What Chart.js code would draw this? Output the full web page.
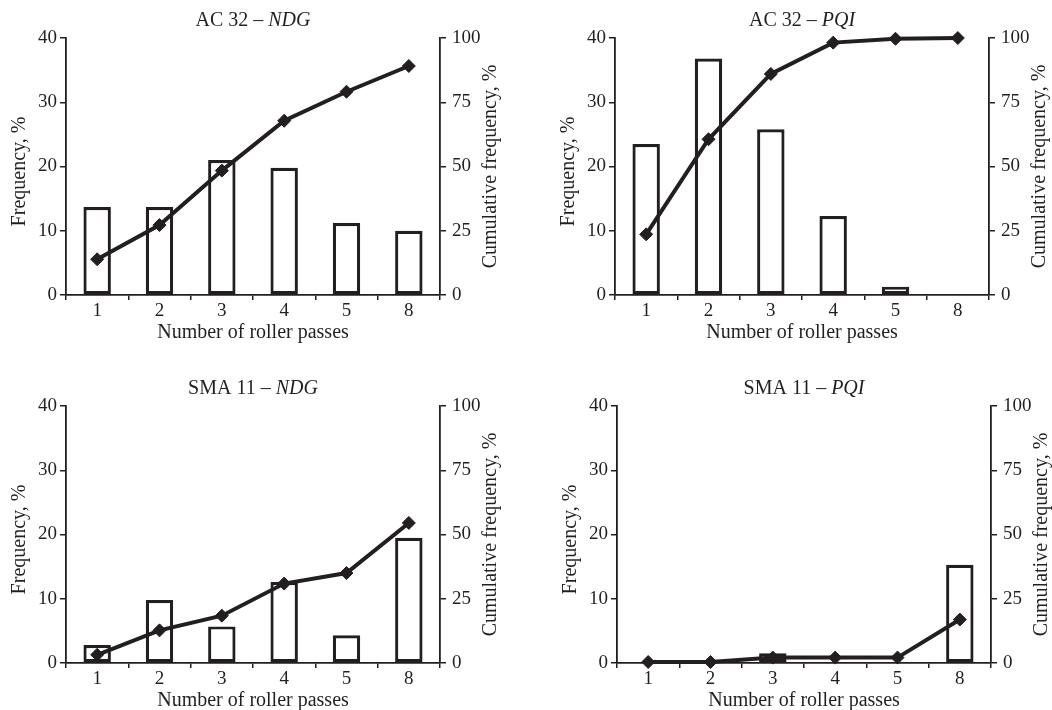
<!DOCTYPE html>
<html>
<head>
<meta charset="utf-8">
<script src="https://cdn.jsdelivr.net/npm/chart.js@4.4.1/dist/chart.umd.min.js"></script>
<style>
  html, body { margin: 0; padding: 0; background: #fff; }
  #wrap { position: relative; width: 1052px; height: 710px; overflow: hidden; }
  .panel { position: absolute; }
</style>
</head>
<body>
<div id="wrap">
  <div class="panel" style="left:0;top:0;width:526px;height:368px"><canvas id="c1"></canvas></div>
  <div class="panel" style="left:549px;top:0;width:503px;height:368px"><canvas id="c2"></canvas></div>
  <div class="panel" style="left:0;top:368px;width:526px;height:342px"><canvas id="c3"></canvas></div>
  <div class="panel" style="left:551px;top:368px;width:501px;height:342px"><canvas id="c4"></canvas></div>
</div>
<script>
// Categories: number of roller passes
const passes = ['1', '2', '3', '4', '5', '8'];

// Axis ticks
const freqTicks = [0, 10, 20, 30, 40];
const cumTicks = [0, 25, 50, 75, 100];

// AC 32 – NDG
const ac32NdgFreq = [13.7, 13.7, 21.0, 19.8, 11.2, 10.0];
const ac32NdgCum  = [13.9, 27.2, 48.4, 67.8, 79.1, 89.1];

// AC 32 – PQI
const ac32PqiFreq = [23.5, 36.8, 25.8, 12.3, 1.3, 0];
const ac32PqiCum  = [23.6, 60.6, 86.0, 98.2, 99.7, 100];

// SMA 11 – NDG
const sma11NdgFreq = [2.8, 9.8, 5.7, 12.6, 4.3, 19.5];
const sma11NdgCum  = [3.2, 12.7, 18.4, 30.9, 35.0, 54.5];

// SMA 11 – PQI
const sma11PqiFreq = [0, 0, 1.5, 0, 0, 15.3];
const sma11PqiCum  = [0.4, 0.4, 2.1, 2.1, 2.1, 16.9];

const INK = '#231f20';
const FONT = '"Liberation Serif", "DejaVu Serif", serif';
const FS = 19;       // tick labels
const FS_TITLE = 20; // headings and axis titles

// Draws the panel heading (with italic index name) and the three axis titles
const panelText = {
  id: 'panelText',
  afterDraw(chart, args, opts) {
    const ctx = chart.ctx;
    const a = chart.chartArea;
    ctx.save();
    ctx.fillStyle = INK;
    ctx.textBaseline = 'middle';

    // heading
    const plain = opts.plain, ital = opts.italic;
    ctx.font = `${FS_TITLE}px ${FONT}`;
    const w1 = ctx.measureText(plain).width;
    ctx.font = `italic ${FS_TITLE}px ${FONT}`;
    const w2 = ctx.measureText(ital).width;
    const cx = (a.left + a.right) / 2;
    const x = cx - (w1 + w2) / 2;
    ctx.textAlign = 'left';
    ctx.font = `${FS_TITLE}px ${FONT}`;
    ctx.fillText(plain, x, a.top - 17);
    ctx.font = `italic ${FS_TITLE}px ${FONT}`;
    ctx.fillText(ital, x + w1, a.top - 17);

    ctx.font = `${FS_TITLE}px ${FONT}`;
    ctx.textAlign = 'center';
    // x axis title
    ctx.fillText('Number of roller passes', cx, a.bottom + 38);

    // left axis title
    const cy = (a.top + a.bottom) / 2 + 5;
    ctx.save();
    ctx.translate(a.left - 46, cy);
    ctx.rotate(-Math.PI / 2);
    ctx.fillText('Frequency, %', 0, 0);
    ctx.restore();

    // right axis title
    ctx.save();
    ctx.translate(a.right + 51, (a.top + a.bottom) / 2);
    ctx.rotate(-Math.PI / 2);
    ctx.fillText('Cumulative frequency, %', 0, 0);
    ctx.restore();

    ctx.restore();
  }
};

function makePanel(id, plain, italic, freq, cum, canvasW, canvasH) {
  const axisGrid = {
    drawOnChartArea: false,
    drawTicks: true,
    tickLength: 6,
    color: INK,
    lineWidth: 1.5
  };
  const axisBorder = { display: true, color: INK, width: 1.8 };
  const tickFont = { family: FONT, size: FS };

  new Chart(document.getElementById(id), {
    data: {
      labels: passes,
      datasets: [
        {
          type: 'line',
          data: cum,
          yAxisID: 'y1',
          order: 1,
          borderColor: INK,
          borderWidth: 4,
          pointStyle: 'rectRot',
          pointRadius: 6.5,
          pointBackgroundColor: INK,
          pointBorderColor: INK,
          pointBorderWidth: 1,
          tension: 0,
          clip: false
        },
        {
          type: 'bar',
          data: freq,
          yAxisID: 'y',
          order: 2,
          backgroundColor: '#ffffff',
          borderColor: INK,
          borderWidth: 3.2,
          borderSkipped: false,
          categoryPercentage: 1,
          barPercentage: 0.44
        }
      ]
    },
    options: {
      responsive: false,
      animation: false,
      devicePixelRatio: 1,
      layout: { padding: { top: 38, left: 0, right: 0, bottom: 0 } },
      plugins: {
        legend: { display: false },
        tooltip: { enabled: false },
        title: { display: false },
        panelText: { plain: plain, italic: italic }
      },
      scales: {
        x: {
          type: 'category',
          offset: true,
          grid: Object.assign({}, axisGrid, { offset: true, tickLength: 5 }),
          border: axisBorder,
          ticks: { color: INK, font: tickFont, padding: 0, maxRotation: 0 },
          afterFit(s) { s.height = canvasH - 38 - 257; }
        },
        y: {
          position: 'left',
          min: freqTicks[0],
          max: freqTicks[freqTicks.length - 1],
          grid: axisGrid,
          border: axisBorder,
          ticks: {
            stepSize: freqTicks[1] - freqTicks[0],
            color: INK, font: tickFont, padding: 3
          },
          afterFit(s) { s.width = 66; }
        },
        y1: {
          position: 'right',
          min: cumTicks[0],
          max: cumTicks[cumTicks.length - 1],
          grid: axisGrid,
          border: axisBorder,
          ticks: {
            stepSize: cumTicks[1] - cumTicks[0],
            color: INK, font: tickFont, padding: 6
          },
          afterFit(s) { s.width = canvasW - 440; }
        }
      }
    },
    plugins: [panelText]
  });
}

function sizeCanvas(id, w, h) {
  const c = document.getElementById(id);
  c.width = w; c.height = h;
  c.style.width = w + 'px'; c.style.height = h + 'px';
}

sizeCanvas('c1', 526, 368);
sizeCanvas('c2', 503, 368);
sizeCanvas('c3', 526, 342);
sizeCanvas('c4', 501, 342);

makePanel('c1', 'AC 32 – ', 'NDG', ac32NdgFreq, ac32NdgCum, 526, 368);
makePanel('c2', 'AC 32 – ', 'PQI', ac32PqiFreq, ac32PqiCum, 503, 368);
makePanel('c3', 'SMA 11 – ', 'NDG', sma11NdgFreq, sma11NdgCum, 526, 342);
makePanel('c4', 'SMA 11 – ', 'PQI', sma11PqiFreq, sma11PqiCum, 501, 342);
</script>
</body>
</html>
